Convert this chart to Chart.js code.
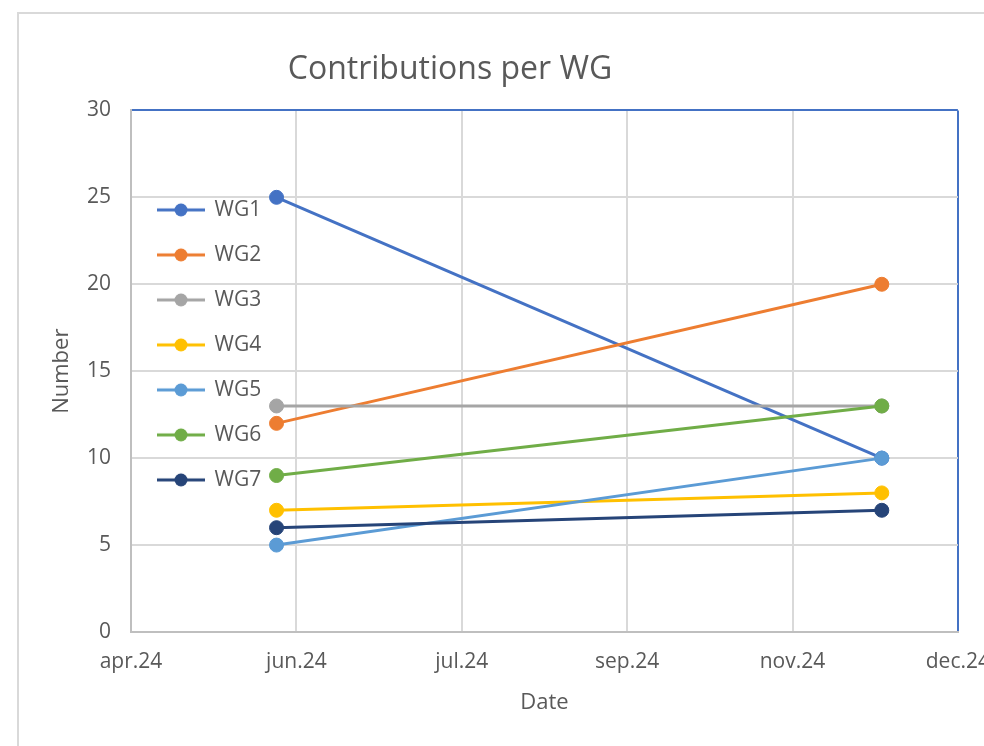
<!DOCTYPE html>
<html>
<head>
<meta charset="UTF-8">
<title>Contributions per WG</title>
<script src="https://cdn.jsdelivr.net/npm/chart.js"></script>
<style>
    body, html {
        margin: 0;
        padding: 0;
        background: #fff;
        overflow: hidden;
        width: 984px;
        height: 746px;
    }
    .frame {
        position: absolute;
        left: 17px;
        top: 12px;
        width: 1000px;
        height: 800px;
        border: 2px solid #d9d9d9;
    }
    #wgChart {
        position: absolute;
        left: 0;
        top: 0;
    }
</style>
</head>
<body>
<div class="frame"></div>
<canvas id="wgChart" width="1007" height="746"></canvas>

<script>
    // data
    const dates = ['2024-06-01', '2024-12-01'];
    const seriesNames = ['WG1', 'WG2', 'WG3', 'WG4', 'WG5', 'WG6', 'WG7'];
    const wg1 = [25, 10];
    const wg2 = [12, 20];
    const wg3 = [13, 13];
    const wg4 = [7, 8];
    const wg5 = [5, 10];
    const wg6 = [9, 13];
    const wg7 = [6, 7];
    const seriesValues = [wg1, wg2, wg3, wg4, wg5, wg6, wg7];
    const seriesColors = ['#4472C4', '#ED7D31', '#A5A5A5', '#FFC000', '#5B9BD5', '#70AD47', '#264478'];

    // x axis (Excel date serials, step 50 days)
    const xStart = '2024-04-18';
    const xEnd = '2024-12-24';
    const xStep = 50;
    const xTickLabels = ['apr.24', 'jun.24', 'jul.24', 'sep.24', 'nov.24', 'dec.24'];
    const yMin = 0, yMax = 30, yStep = 5;

    const textColor = '#595959';
    const gridColor = '#d9d9d9';
    const axisColor = '#bfbfbf';
    const frameBlue = '#4472C4';
    const fontFamily = '"Open Sans", sans-serif';

    function serial(s) {
        const p = s.split('-').map(Number);
        return Math.round((Date.UTC(p[0], p[1] - 1, p[2]) - Date.UTC(1899, 11, 30)) / 86400000);
    }

    const xMin = serial(xStart);
    const xMax = serial(xEnd);

    // legend marker: line with a dot on it
    function legendMarker(color) {
        const c = document.createElement('canvas');
        c.width = 48;
        c.height = 16;
        const g = c.getContext('2d');
        g.strokeStyle = color;
        g.lineWidth = 3;
        g.beginPath();
        g.moveTo(0, 8);
        g.lineTo(48, 8);
        g.stroke();
        g.fillStyle = color;
        g.beginPath();
        g.arc(24, 8, 6.5, 0, Math.PI * 2);
        g.fill();
        return c;
    }
    const markers = seriesColors.map(legendMarker);

    // move title and legend to where Excel put them
    const nudge = {
        id: 'nudge',
        afterLayout(chart) {
            const t = chart.titleBlock;
            const d = 450 - (t.left + t.right) / 2;
            t.left += d;
            t.right += d;
            const lg = chart.legend;
            lg.left = chart.chartArea.left + 3;
            lg.top = chart.chartArea.top + 65;
        }
    };

    const ctx = document.getElementById('wgChart').getContext('2d');
    const chart = new Chart(ctx, {
        type: 'line',
        data: {
            datasets: seriesNames.map((name, i) => ({
                label: name,
                data: seriesValues[i].map((v, j) => ({ x: serial(dates[j]), y: v })),
                borderColor: seriesColors[i],
                backgroundColor: seriesColors[i],
                borderWidth: 3,
                pointRadius: 7,
                pointBorderWidth: 1,
                pointHoverRadius: 7,
                order: seriesNames.length - i,
                fill: false
            }))
        },
        plugins: [nudge],
        options: {
            responsive: false,
            animation: false,
            layout: { padding: { left: 0, right: 38, top: 0, bottom: 0 } },
            font: { family: fontFamily },
            plugins: {
                title: {
                    display: true,
                    text: 'Contributions per WG',
                    color: textColor,
                    font: { family: fontFamily, size: 32, weight: 'normal' },
                    padding: { top: 51, bottom: 21 }
                },
                legend: {
                    position: 'chartArea',
                    align: 'start',
                    labels: {
                        usePointStyle: true,
                        pointStyleWidth: 46,
                        padding: 24,
                        color: textColor,
                        font: { family: fontFamily, size: 21 },
                        sort: (a, b) => a.datasetIndex - b.datasetIndex,
                        generateLabels(chart) {
                            const items = Chart.defaults.plugins.legend.labels.generateLabels(chart);
                            items.forEach(it => { it.pointStyle = markers[it.datasetIndex]; });
                            return items;
                        }
                    }
                },
                tooltip: { enabled: false }
            },
            scales: {
                x: {
                    type: 'linear',
                    min: xMin,
                    max: xMax,
                    ticks: {
                        stepSize: xStep,
                        color: textColor,
                        padding: 17,
                        maxRotation: 0,
                        autoSkip: false,
                        font: { family: fontFamily, size: 21 },
                        callback: (v, i) => xTickLabels[i]
                    },
                    grid: {
                        drawTicks: false,
                        color: c => c.tick && c.tick.value === xMax ? frameBlue : (c.tick && c.tick.value === xMin ? axisColor : gridColor),
                        lineWidth: 2
                    },
                    border: { color: axisColor, width: 2 },
                    title: {
                        display: true,
                        text: 'Date',
                        color: textColor,
                        font: { family: fontFamily, size: 22 },
                        padding: { top: 0, bottom: 30 }
                    },
                    afterFit(scale) { scale.height = 114; }
                },
                y: {
                    min: yMin,
                    max: yMax,
                    ticks: {
                        stepSize: yStep,
                        color: textColor,
                        padding: 20,
                        font: { family: fontFamily, size: 21 }
                    },
                    grid: {
                        drawTicks: false,
                        color: c => c.tick && c.tick.value === yMax ? frameBlue : (c.tick && c.tick.value === yMin ? axisColor : gridColor),
                        lineWidth: 2
                    },
                    border: { color: axisColor, width: 2 },
                    title: {
                        display: true,
                        text: 'Number',
                        color: textColor,
                        font: { family: fontFamily, size: 22 },
                        padding: { top: 49, bottom: 0 }
                    },
                    afterFit(scale) { scale.width = 131; }
                }
            }
        }
    });
</script>
</body>
</html>
